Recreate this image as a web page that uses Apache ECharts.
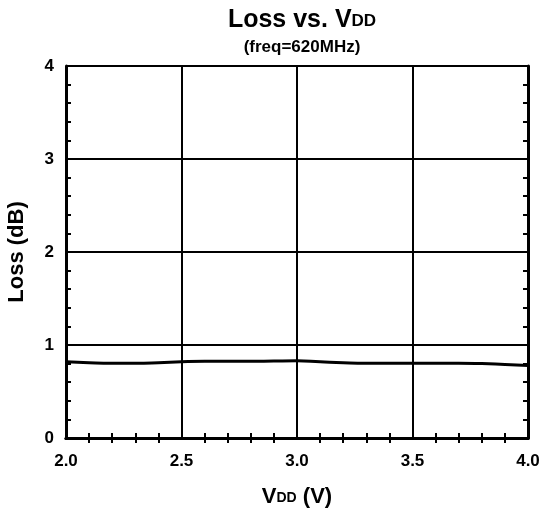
<!DOCTYPE html>
<html><head><meta charset="utf-8">
<script src="https://cdn.jsdelivr.net/npm/echarts@6/dist/echarts.min.js"></script>
<style>html,body{margin:0;padding:0;background:#fff}#c{width:541px;height:509px}</style>
</head><body><div id="c"></div>
<script>
const vdd = [2.0,2.1,2.2,2.3,2.4,2.5,2.6,2.7,2.8,2.9,3.0,3.1,3.2,3.3,3.4,3.5,3.6,3.7,3.8,3.9,4.0];
const loss = [0.82,0.81,0.805,0.805,0.81,0.82,0.825,0.825,0.825,0.828,0.83,0.82,0.81,0.805,0.805,0.805,0.805,0.805,0.80,0.79,0.78];
const xTicks = [2.0,2.5,3.0,3.5,4.0];
const yTicks = [0,1,2,3,4];
const F = '"Liberation Sans", Arial, sans-serif';
const chart = echarts.init(document.getElementById('c'));
const axisCommon = {
  axisLine:{show:true,lineStyle:{color:'#000',width:3}},
  axisTick:{show:false,inside:true},
  minorTick:{show:true,splitNumber:5,length:5,lineStyle:{color:'#000',width:2}},
};
chart.setOption({
  animation:false,
  backgroundColor:'#fff',
  title:{
    left:297, textAlign:'center', top:3,
    text:'{a|Loss vs. V}{b|DD}',
    subtext:'(freq=620MHz)',
    itemGap:6,
    textStyle:{rich:{a:{fontFamily:F,fontWeight:'bold',fontSize:25,color:'#000',verticalAlign:'bottom'},b:{fontFamily:F,fontWeight:'bold',fontSize:17,color:'#000',verticalAlign:'bottom',padding:[0,0,3,0]}}},
    subtextStyle:{fontFamily:F,fontWeight:'bold',fontSize:17,color:'#000'}
  },
  grid:{left:66,right:13,top:66,bottom:71,outerBoundsMode:'none',containLabel:false},
  xAxis:[
    Object.assign({type:'value',min:2,max:4,interval:0.5,position:'bottom',
      axisLabel:{color:'#000',fontFamily:F,fontWeight:'bold',fontSize:17,margin:15,formatter:v=>v.toFixed(1)},
      splitLine:{show:true,lineStyle:{color:'#000',width:2}},
      name:'{a|V}{b|DD}{a| (V)}',nameLocation:'middle',nameGap:48,
      nameTextStyle:{rich:{a:{fontFamily:F,fontWeight:'bold',fontSize:22,color:'#000',verticalAlign:'bottom'},b:{fontFamily:F,fontWeight:'bold',fontSize:14,color:'#000',verticalAlign:'bottom',padding:[0,0,3,0]}}}
    },axisCommon),
    Object.assign({type:'value',min:2,max:4,interval:0.5,position:'top',
      axisLabel:{show:false},splitLine:{show:false}},axisCommon)
  ],
  yAxis:[
    Object.assign({type:'value',min:0,max:4,interval:1,position:'left',
      axisLabel:{color:'#000',fontFamily:F,fontWeight:'bold',fontSize:17,margin:12},
      splitLine:{show:true,lineStyle:{color:'#000',width:2}},
      name:'Loss (dB)',nameLocation:'middle',nameGap:38,
      nameTextStyle:{fontFamily:F,fontWeight:'bold',fontSize:22,color:'#000'}
    },axisCommon),
    Object.assign({type:'value',min:0,max:4,interval:1,position:'right',
      axisLabel:{show:false},splitLine:{show:false}},axisCommon)
  ],
  series:[{
    type:'line',data:vdd.map((x,i)=>[x,loss[i]]),showSymbol:false,smooth:true,
    lineStyle:{color:'#000',width:3},xAxisIndex:0,yAxisIndex:0
  }]
});
</script></body></html>
